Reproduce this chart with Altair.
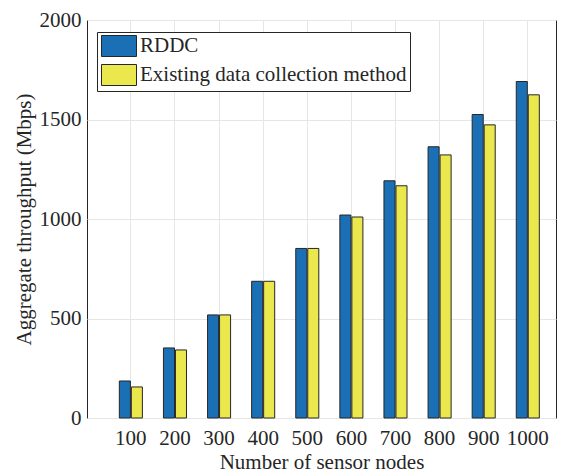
import altair as alt
import pandas as pd

nodes = [100, 200, 300, 400, 500, 600, 700, 800, 900, 1000]
rddc = [186, 352, 518, 687, 852, 1020, 1192, 1363, 1525, 1691]
existing = [156, 342, 518, 687, 852, 1010, 1167, 1322, 1473, 1624]
series = ["RDDC", "Existing data collection method"]
colors = ["#1b70b5", "#ebe84d"]

rows = []
for n, a, b in zip(nodes, rddc, existing):
    rows.append({"nodes": str(n), "series": series[0], "value": a})
    rows.append({"nodes": str(n), "series": series[1], "value": b})
df = pd.DataFrame(rows)

FONT = "Liberation Serif"
TXT = "#262626"

chart = alt.Chart(df).mark_bar(stroke=TXT, strokeWidth=1).encode(
    x=alt.X("nodes:N", sort=[str(n) for n in nodes],
            scale=alt.Scale(paddingInner=0, paddingOuter=0.317, align=0.78),
            axis=alt.Axis(title="Number of sensor nodes", labelAngle=0, grid=True,
                          bandPosition=0.5, ticks=False, domain=False,
                          labelPadding=9, titlePadding=3)),
    xOffset=alt.XOffset("series:N", sort=series,
                        scale=alt.Scale(paddingInner=0.08, paddingOuter=0.8775)),
    y=alt.Y("value:Q", scale=alt.Scale(domain=[0, 2000], nice=False),
            axis=alt.Axis(title="Aggregate throughput (Mbps)", values=[0, 500, 1000, 1500, 2000],
                          format="d", ticks=False, domain=False, labelPadding=6, titlePadding=5)),
    color=alt.Color("series:N", sort=series,
                    scale=alt.Scale(domain=series, range=colors),
                    legend=alt.Legend(title=None, orient="none", legendX=10, legendY=12,
                                      direction="vertical", strokeColor=TXT, fillColor="white",
                                      padding=3, symbolType="M-1.667,-1H1.667V1H-1.667Z",
                                      symbolSize=441, symbolOffset=8, symbolStrokeColor=TXT,
                                      symbolStrokeWidth=1, labelFontSize=21, labelFont=FONT,
                                      labelColor=TXT, labelOffset=10, rowPadding=3,
                                      labelLimit=400, symbolOpacity=1)),
).properties(
    width=469, height=398,
    autosize=alt.AutoSizeParams(type="none"),
    padding={"left": 79, "top": 12, "right": 2, "bottom": 54},
).configure_view(
    stroke=TXT, strokeWidth=1
).configure_axis(
    labelFont=FONT, titleFont=FONT, labelFontSize=21, titleFontSize=21,
    labelColor=TXT, titleColor=TXT, titleFontWeight="normal",
    gridColor="#e6e6e6", gridWidth=1,
)

chart.save("out.html", embed_options={"renderer": "svg", "actions": False})
